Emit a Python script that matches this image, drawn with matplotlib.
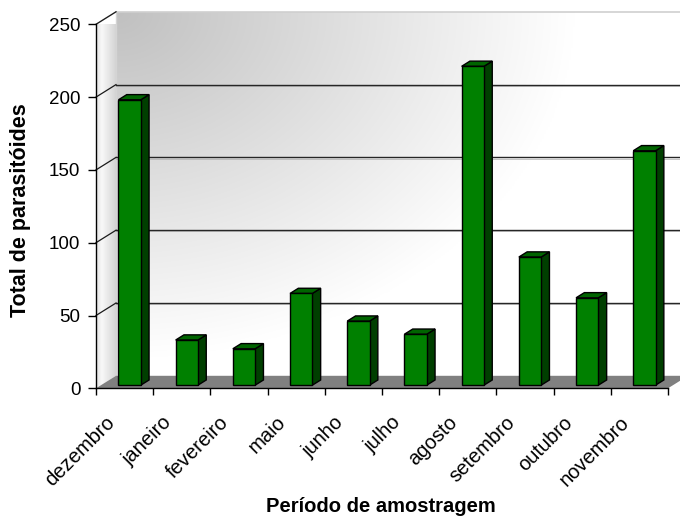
import numpy as np
import matplotlib
matplotlib.use("Agg")
import matplotlib.pyplot as plt
from matplotlib.patches import Polygon
from matplotlib.transforms import ScaledTranslation

plt.rcParams['font.family'] = ['Liberation Sans', 'DejaVu Sans']

# Monthly totals of parasitoids
months = ["dezembro", "janeiro", "fevereiro", "maio", "junho",
          "julho", "agosto", "setembro", "outubro", "novembro"]
totals = [196, 31, 25, 63, 44, 35, 219, 88, 60, 161]
y_ticks = [0, 50, 100, 150, 200, 250]
y_max = 250

W, H = 680, 517
fig = plt.figure(figsize=(W / 100, H / 100), dpi=100)
fig.patch.set_facecolor("white")

# front frame of the 3-D box, in pixels
left_px, right_px, top_px, bottom_px = 96, 668, 24.3, 388.3
ax = fig.add_axes([left_px / W, 1 - bottom_px / H,
                   (right_px - left_px) / W, (bottom_px - top_px) / H])
n = len(months)
ax.set_xlim(-0.5, n - 0.5)
ax.set_ylim(0, y_max)
ax.set_facecolor("none")

# depth offset of the back wall, converted to data units
px_per_cat = (right_px - left_px) / n
px_per_val = (bottom_px - top_px) / y_max
DX = 20 / px_per_cat
DY = 12.5 / px_per_val

x0, x1 = -0.5, n - 0.5

# back wall with a soft diagonal gradient
gu = np.linspace(0, 1, 300)
gw = np.linspace(1, 0, 300)          # rows from bottom to top
U, Wd = np.meshgrid(gu, gw)
g = 192 + 63 * np.clip(np.sqrt((U * 1.25) ** 2 + (Wd * 1.05) ** 2), 0, 1)
img = np.dstack([g, g, g]) / 255.0
im = ax.imshow(img, extent=[x0 + DX, x1 + DX, DY, y_max + DY],
               origin="lower", aspect="auto", zorder=0, interpolation="bilinear")
im.set_clip_on(False)
ax.plot([x0 + DX, x1 + DX], [y_max + DY, y_max + DY], color="#cfcfcf",
        lw=1.2, clip_on=False, zorder=1)
ax.plot([x0 + DX, x0 + DX], [DY, y_max + DY], color="#d4d4d4",
        lw=1.0, clip_on=False, zorder=1)

# left side wall
side = Polygon([(x0, 0), (x0 + DX, DY), (x0 + DX, y_max + DY), (x0, y_max)],
               closed=True, facecolor="none", edgecolor="none", zorder=0.5)
ax.add_patch(side)
side.set_clip_on(False)
sg = np.linspace(0, 1, 60)
sc = np.interp(sg, [0, 0.3, 1], [228, 248, 212])
simg = np.tile(np.dstack([sc, sc, sc]) / 255.0, (10, 1, 1))
sim = ax.imshow(simg, extent=[x0, x0 + DX, 0, y_max + DY], origin="lower",
                aspect="auto", zorder=0.5, interpolation="bilinear")
sim.set_clip_path(side)
ax.plot([x0, x0 + DX], [y_max, y_max + DY], color="#c8c8c8", lw=1.0,
        clip_on=False, zorder=1)

# floor
floor = Polygon([(x0, 0), (x1, 0), (x1 + DX, DY), (x0 + DX, DY)], closed=True,
                facecolor="#808080", edgecolor="none", zorder=1, clip_on=False)
ax.add_patch(floor)

# gridlines on the back wall and on the side wall
for yv in y_ticks[1:-1]:
    ax.plot([x0 + DX, x1 + DX], [yv + DY, yv + DY], color="#262626", lw=1.0,
            clip_on=False, zorder=1.5)
    ax.plot([x0 + DX, x1 + DX], [yv + DY - 0.8, yv + DY - 0.8], color="#b0b0b0",
            lw=0.5, clip_on=False, zorder=1.4)
for yv in y_ticks[1:]:
    ax.plot([x0, x0 + DX], [yv, yv + DY], color="#1a1a1a", lw=0.9,
            clip_on=False, zorder=1.5)

# 3-D columns
bw = 0.39
f0, f1 = 0.25, 0.665
xs = np.arange(n)
face = "#008000"
side_c = "#003f00"
top_c = "#006400"
edge_kw = dict(edgecolor="black", linewidth=1.0)
ax.bar(xs + f0 * DX, totals, width=bw, bottom=f0 * DY, color=face,
       zorder=3, **edge_kw)
for xc, v in zip(xs, totals):
    xl = xc + f0 * DX - bw / 2
    xr = xc + f0 * DX + bw / 2
    ddx = (f1 - f0) * DX
    ddy = (f1 - f0) * DY
    yb = f0 * DY
    yt = v + f0 * DY
    ax.add_patch(Polygon([(xr, yb), (xr + ddx, yb + ddy), (xr + ddx, yt + ddy), (xr, yt)],
                         closed=True, facecolor=side_c, zorder=2.9, **edge_kw))
    ax.add_patch(Polygon([(xl, yt), (xr, yt), (xr + ddx, yt + ddy), (xl + ddx, yt + ddy)],
                         closed=True, facecolor=top_c, zorder=2.9, **edge_kw))

# axes lines and ticks
for s in ["top", "right"]:
    ax.spines[s].set_visible(False)
for s in ["left", "bottom"]:
    ax.spines[s].set_color("black")
    ax.spines[s].set_linewidth(1.0)
    ax.spines[s].set_zorder(4)
ax.set_yticks(y_ticks)
ax.set_yticklabels([str(t) for t in y_ticks])
ax.tick_params(axis="y", direction="out", length=5.8, width=1.0, pad=5.5,
               labelsize=13.5, colors="black")
ax.set_xticks(np.arange(-0.5, n, 1.0))
ax.set_xticklabels([])
ax.tick_params(axis="x", direction="out", length=5, width=1.0)

# rotated month labels
off = ScaledTranslation(-13 / 100, -31 / 100, fig.dpi_scale_trans)
for xc, lab in zip(xs, months):
    ax.text(xc, 0, lab, transform=ax.get_xaxis_transform() + off,
            rotation=45, rotation_mode="anchor", ha="right", va="center",
            fontsize=14.5, color="black")

fig.text(381 / W, 1 - 506 / H, "Período de amostragem", ha="center", va="center",
         fontsize=14.5, fontweight="bold")
fig.text(21 / W, 1 - 210 / H, "Total de parasitóides", ha="center", va="center",
         rotation=90, fontsize=15.5, fontweight="bold")

fig.savefig("out.png", dpi=100, facecolor="white")
